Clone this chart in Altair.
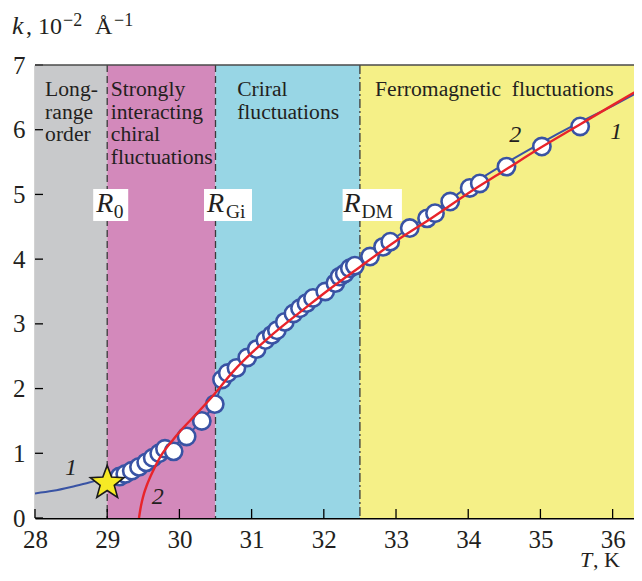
import math
import altair as alt
import pandas as pd

SERIF = "'Liberation Serif', 'Times New Roman', Times, 'DejaVu Serif', serif"
INK = "#231f20"

# ---------------- data ----------------
region_names = ["long", "strong", "chiral", "ferro"]
region_start = [28.0, 29.0, 30.5, 32.5]
region_end = [29.0, 30.5, 32.5, 37.0]

boundary_T = [29.0, 30.5]
boundary_dm_T = [32.5]

region_text = ["Long-\nrange\norder",
               "Strongly\ninteracting\nchiral\nfluctuations",
               "Criral\nfluctuations",
               "Ferromagnetic\u00a0 fluctuations"]
region_text_T = [28.14, 29.05, 30.80, 32.71]
region_text_k = [6.52, 6.52, 6.52, 6.52]

# experimental points
pts_T = [29.17, 29.25, 29.34, 29.44, 29.54, 29.63, 29.72, 29.80, 29.92, 30.10,
         30.31, 30.49, 30.59, 30.67, 30.79, 30.94, 31.07, 31.19, 31.28, 31.35,
         31.46, 31.58, 31.67, 31.76, 31.85, 32.02, 32.16, 32.22, 32.29, 32.36,
         32.43, 32.64, 32.82, 32.92, 33.19, 33.43, 33.54, 33.75, 34.02, 34.16,
         34.53, 35.02, 35.55]
pts_k = [0.64, 0.68, 0.73, 0.79, 0.86, 0.93, 1.00, 1.07, 1.03, 1.26,
         1.50, 1.76, 2.14, 2.24, 2.32, 2.48, 2.61, 2.75, 2.83, 2.90,
         3.03, 3.16, 3.24, 3.32, 3.40, 3.50, 3.63, 3.73, 3.78, 3.86,
         3.90, 4.04, 4.19, 4.27, 4.48, 4.63, 4.71, 4.89, 5.10, 5.17,
         5.43, 5.74, 6.05]

# curve 1 (blue)
c1_T = [28.0, 28.25, 28.5, 28.75, 29.0, 29.2, 29.45, 29.7, 29.9, 30.1,
        30.3, 30.5, 30.6, 30.8, 31.0, 31.3, 31.6, 31.9, 32.2, 32.5,
        32.8, 33.1, 33.4, 33.7, 34.0, 34.5, 35.0, 35.5, 36.0, 36.35]
c1_k = [0.38, 0.42, 0.48, 0.55, 0.62, 0.67, 0.79, 0.97, 1.10, 1.27,
        1.50, 1.80, 2.10, 2.34, 2.54, 2.87, 3.17, 3.43, 3.69, 3.93,
        4.18, 4.42, 4.64, 4.88, 5.12, 5.47, 5.79, 6.09, 6.37, 6.58]

# curve 2 (red)
c2_T = [29.44, 29.46, 29.48, 29.51, 29.55, 29.64, 29.75, 29.89, 30.05, 30.22,
        30.45, 30.75, 31.0, 31.25, 31.5, 31.75, 32.0, 32.5, 33.0, 33.5,
        34.0, 34.5, 35.0, 35.5, 36.0, 36.4]
c2_k = [0.00, 0.14, 0.25, 0.38, 0.51, 0.74, 0.97, 1.18, 1.39, 1.59,
        1.87, 2.27, 2.55, 2.80, 3.03, 3.25, 3.47, 3.88, 4.28, 4.64,
        5.02, 5.37, 5.72, 6.05, 6.38, 6.64]

star_T = [29.0]
star_k = [0.54]

curve_label = ["1", "2", "2", "1"]
curve_label_T = [28.50, 29.70, 34.65, 36.05]
curve_label_k = [0.77, 0.33, 5.92, 5.97]

x_ticks = [28, 29, 30, 31, 32, 33, 34, 35, 36]
y_ticks = [0, 1, 2, 3, 4, 5, 6, 7]

# ---------------- layout ----------------
W, H = 599, 453
x_scale = alt.Scale(domain=[28, 36.296], nice=False, zero=False)
y_scale = alt.Scale(domain=[0, 7], nice=False, zero=False)

x_axis = alt.Axis(values=x_ticks, title=None, ticks=False, grid=False,
                  labelFont=SERIF, labelFontSize=25, labelColor=INK,
                  labelPadding=9, labelFlush=False, labelOverlap=False,
                  domainColor="#000000", domainWidth=1.8, format="d")
y_axis = alt.Axis(values=y_ticks, title=None, ticks=False, grid=False,
                  labelFont=SERIF, labelFontSize=25, labelColor=INK,
                  labelPadding=10, labelOverlap=False,
                  domainColor="#222222", domainWidth=1.4, format="d")


def X(field):
    return alt.X(field, type="quantitative", scale=x_scale, axis=x_axis)


def Y(field):
    return alt.Y(field, type="quantitative", scale=y_scale, axis=y_axis)


regions = alt.Chart(pd.DataFrame({"name": region_names, "T0": region_start,
                                  "T1": region_end})).mark_rect(clip=True).encode(
    x=X("T0"), x2="T1", y=alt.value(0), y2=alt.value(H),
    color=alt.Color("name:N", legend=None,
                    scale=alt.Scale(domain=region_names,
                                    range=["#c8c9cb", "#d389bb", "#98d6e5", "#f5f087"])))

bounds = alt.Chart(pd.DataFrame({"T": boundary_T})).mark_rule(
    color="#3a3a3a", strokeWidth=1.3, strokeDash=[7, 4]).encode(x=X("T"))
bounds_dm = alt.Chart(pd.DataFrame({"T": boundary_dm_T})).mark_rule(
    color="#3a3a3a", strokeWidth=1.3, strokeDash=[9, 3, 2, 3]).encode(x=X("T"))

rtext = alt.Chart(pd.DataFrame({"t": region_text, "T": region_text_T,
                                "k": region_text_k})).mark_text(
    align="left", baseline="alphabetic", font=SERIF, fontSize=21.6,
    lineBreak="\n", lineHeight=22.5, color=INK).encode(x=X("T"), y=Y("k"), text="t:N")

# R labels with white boxes
r_layers = []
r_specs = [(29.0, "0", -14, 21, -11, 6.5),
           (30.5, "Gi", -11.5, 36.5, -8.5, 10.5),
           (32.5, "DM", -17.3, 42, -16.5, 1.5)]
for t, sub, bl, br, rdx, sdx in r_specs:
    r_layers.append(alt.Chart().mark_rect(color="white", xOffset=bl, x2Offset=br).encode(
        x=alt.X(datum=t, scale=x_scale, axis=x_axis), x2=alt.X2(datum=t),
        y=alt.Y(datum=5.085, scale=y_scale, axis=y_axis), y2=alt.Y2(datum=4.59)))
    r_layers.append(alt.Chart().mark_text(
        text="R", align="left", baseline="alphabetic", font=SERIF, fontSize=28,
        fontStyle="italic", dx=rdx, color=INK).encode(
        x=alt.X(datum=t, scale=x_scale, axis=x_axis),
        y=alt.Y(datum=4.73, scale=y_scale, axis=y_axis)))
    r_layers.append(alt.Chart().mark_text(
        text=sub, align="left", baseline="alphabetic", font=SERIF, fontSize=19.5,
        dx=sdx, color=INK).encode(
        x=alt.X(datum=t, scale=x_scale, axis=x_axis),
        y=alt.Y(datum=4.63, scale=y_scale, axis=y_axis)))

curve1 = alt.Chart(pd.DataFrame({"T": c1_T, "k": c1_k})).mark_line(
    color="#3953a4", strokeWidth=2, interpolate="monotone", clip=True).encode(
    x=X("T"), y=Y("k"))

points = alt.Chart(pd.DataFrame({"T": pts_T, "k": pts_k, "i": list(range(len(pts_T)))})).mark_point(
    shape="circle", size=300, filled=False, fill="white", fillOpacity=1,
    stroke="#3953a4", strokeWidth=2.6, opacity=1).encode(
    x=X("T"), y=Y("k"), order="i:Q")

curve2 = alt.Chart(pd.DataFrame({"T": c2_T, "k": c2_k})).mark_line(
    color="#e8242a", strokeWidth=2.4, interpolate="monotone", clip=True).encode(
    x=X("T"), y=Y("k"))

# star glyph path in the unit square
pts = []
for i in range(10):
    r = 1.0 if i % 2 == 0 else 0.42
    a = -math.pi / 2 + i * math.pi / 5
    pts.append(f"{r * math.cos(a):.4f},{r * math.sin(a):.4f}")
star_path = "M" + "L".join(pts) + "Z"

star = alt.Chart(pd.DataFrame({"T": star_T, "k": star_k})).mark_point(
    shape=star_path, size=1250, filled=True, fill="#f6ea25", fillOpacity=1,
    stroke="#1a1a1a", strokeWidth=1.6, opacity=1).encode(x=X("T"), y=Y("k"))

clabels = alt.Chart(pd.DataFrame({"t": curve_label, "T": curve_label_T,
                                  "k": curve_label_k})).mark_text(
    font=SERIF, fontSize=24, fontStyle="italic", color=INK, baseline="middle",
    align="center").encode(x=X("T"), y=Y("k"), text="t:N")

xt = alt.Chart(pd.DataFrame({"T": x_ticks})).mark_rule(color="#000", strokeWidth=1.3).encode(
    x=X("T"), y=alt.value(H), y2=alt.value(H - 9))
yt = alt.Chart(pd.DataFrame({"k": y_ticks})).mark_rule(color="#000", strokeWidth=1.3).encode(
    y=Y("k"), x=alt.value(0), x2=alt.value(8))
top_border = alt.Chart().mark_rule(color="#4a4a4a", strokeWidth=1.4).encode(
    x=alt.value(0), x2=alt.value(W), y=alt.value(0))


def label(txt, px, py, size, italic=False):
    kw = dict(text=txt, align="left", baseline="alphabetic", font=SERIF,
              fontSize=size, color=INK)
    if italic:
        kw["fontStyle"] = "italic"
    return alt.Chart().mark_text(**kw).encode(x=alt.value(px - 35), y=alt.value(py - 65))


titles = [
    label("k", 12, 34, 26, italic=True),
    label(", 10", 26, 34, 24),
    label("\u22122", 63, 26, 18),
    label("\u00c5", 95, 34, 24),
    label("\u22121", 114, 26, 18),
    label("T", 580, 567, 22, italic=True),
    label(", K", 593, 567, 22),
]

chart = alt.layer(
    regions, bounds, bounds_dm, rtext, *r_layers, curve1, points, curve2, star,
    clabels, xt, yt, top_border, *titles
).properties(
    width=W, height=H,
    padding={"left": 27, "top": 57, "right": 0, "bottom": 54},
    autosize=alt.AutoSizeParams(type="none"),
).configure_view(stroke=None)

chart.save("out.html", embed_options={"renderer": "svg", "actions": False})
